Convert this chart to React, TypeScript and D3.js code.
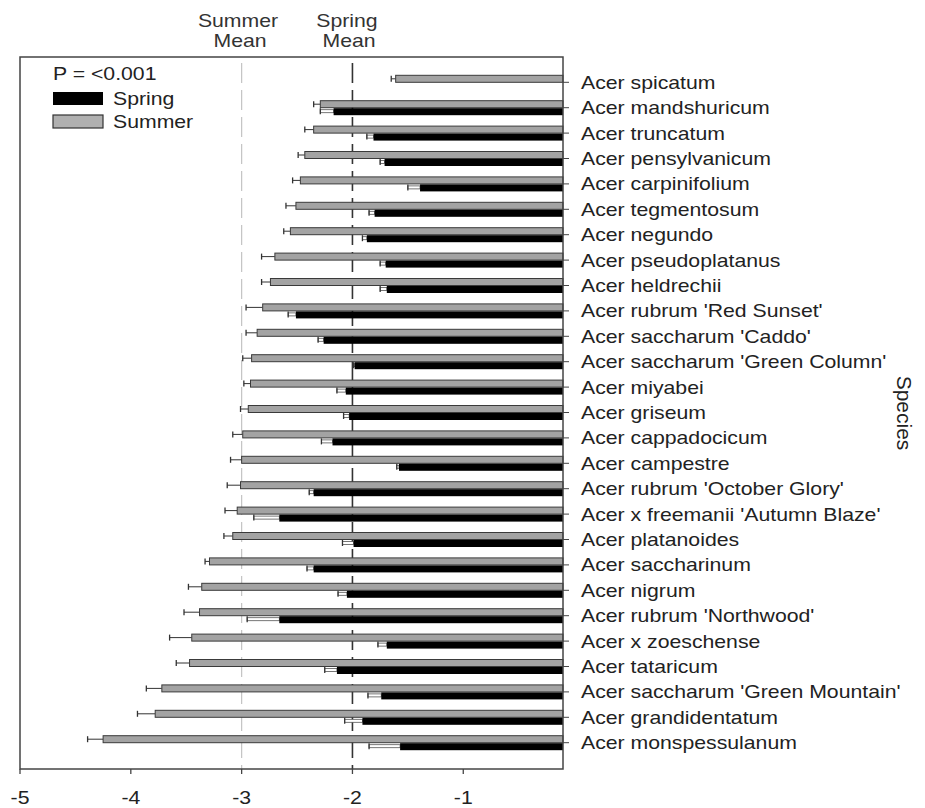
import React from 'react'
import * as d3 from 'd3'

// species, top to bottom
const species = [
  'Acer spicatum',
  'Acer mandshuricum',
  'Acer truncatum',
  'Acer pensylvanicum',
  'Acer carpinifolium',
  'Acer tegmentosum',
  'Acer negundo',
  'Acer pseudoplatanus',
  'Acer heldrechii',
  "Acer rubrum 'Red Sunset'",
  "Acer saccharum 'Caddo'",
  "Acer saccharum 'Green Column'",
  'Acer miyabei',
  'Acer griseum',
  'Acer cappadocicum',
  'Acer campestre',
  "Acer rubrum 'October Glory'",
  "Acer x freemanii 'Autumn Blaze'",
  'Acer platanoides',
  'Acer saccharinum',
  'Acer nigrum',
  "Acer rubrum 'Northwood'",
  'Acer x zoeschense',
  'Acer tataricum',
  "Acer saccharum 'Green Mountain'",
  'Acer grandidentatum',
  'Acer monspessulanum',
]

const summerMean = [-1.61, -2.29, -2.35, -2.43, -2.47, -2.51, -2.56, -2.70, -2.74, -2.81, -2.86, -2.91, -2.92, -2.94, -2.99, -3.00, -3.01, -3.04, -3.08, -3.29, -3.36, -3.38, -3.45, -3.47, -3.72, -3.78, -4.25]
const summerErr = [0.04, 0.06, 0.08, 0.06, 0.07, 0.09, 0.06, 0.12, 0.08, 0.15, 0.10, 0.08, 0.06, 0.07, 0.09, 0.10, 0.12, 0.11, 0.08, 0.04, 0.12, 0.14, 0.20, 0.12, 0.14, 0.16, 0.14]
const springMean = [null, -2.17, -1.81, -1.71, -1.39, -1.80, -1.87, -1.70, -1.69, -2.51, -2.26, -1.98, -2.06, -2.03, -2.18, -1.58, -2.35, -2.66, -1.99, -2.35, -2.05, -2.66, -1.69, -2.14, -1.74, -1.91, -1.57]
const springErr = [0, 0.12, 0.06, 0.04, 0.11, 0.05, 0.04, 0.05, 0.06, 0.07, 0.05, 0.01, 0.08, 0.05, 0.10, 0.02, 0.04, 0.23, 0.10, 0.06, 0.08, 0.29, 0.08, 0.11, 0.12, 0.16, 0.28]

const xTicks = [-5, -4, -3, -2, -1]
const summerOverall = -3
const springOverall = -2
const pLabel = 'P = <0.001'

const W = 925
const H = 808
const left = 20
const right = 563
const top = 57
const bottom = 769
const font = 'Liberation Sans, Arial, Helvetica, sans-serif'
const SX = 1.18 // the source picture is stretched sideways

function Txt({x, y, children, size = 18, anchor = 'start', fill = '#222'}: any) {
  return (
    <text transform={`translate(${x},${y}) scale(${SX},1)`} fontSize={size} fontFamily={font}
      textAnchor={anchor} fill={fill}>{children}</text>
  )
}

export default function App() {
  const x = d3.scaleLinear().domain([-5, -0.1]).range([left, right])
  const y = d3.scalePoint().domain(species).range([82.3, 742.7])
  const bh = 7

  return (
    <svg width={W} height={H} style={{position: 'absolute', left: 0, top: 0, background: '#fff'}}>
      {/* mean lines */}
      <line x1={x(summerOverall)} x2={x(summerOverall)} y1={top + 6} y2={bottom} stroke="#c4c4c4"
        strokeWidth={1.2} strokeDasharray="20 7" />
      <line x1={x(springOverall)} x2={x(springOverall)} y1={top + 6} y2={bottom} stroke="#333"
        strokeWidth={1.6} strokeDasharray="20 7" />

      {species.map((s, i) => {
        const c = y(s)!
        const sm = summerMean[i]
        const sp = springMean[i]
        return (
          <g key={s}>
            {/* summer */}
            <line x1={x(sm - summerErr[i])} x2={x(sm)} y1={c - bh / 2} y2={c - bh / 2} stroke="#333" strokeWidth={1} />
            <line x1={x(sm - summerErr[i])} x2={x(sm - summerErr[i])} y1={c - bh / 2 - 3} y2={c - bh / 2 + 3} stroke="#333" strokeWidth={1.3} />
            <rect x={x(sm)} y={c - bh} width={right - x(sm)} height={bh} fill="#a3a3a3" stroke="#3a3a3a" strokeWidth={1} />
            {/* spring */}
            {sp !== null && (
              <g>
                <rect x={x(sp - springErr[i])} y={c + bh / 2 - 1.5} width={x(sp) - x(sp - springErr[i])} height={3}
                  fill="#fff" stroke="#555" strokeWidth={0.8} />
                <line x1={x(sp - springErr[i])} x2={x(sp - springErr[i])} y1={c + bh / 2 - 3} y2={c + bh / 2 + 3} stroke="#333" strokeWidth={1.3} />
                <rect x={x(sp)} y={c + 0.5} width={right - x(sp)} height={bh} fill="#000" />
              </g>
            )}
            <line x1={right} x2={right + 6} y1={c} y2={c} stroke="#444" strokeWidth={1} />
            <Txt x={581} y={c + 6.5}>{s}</Txt>
          </g>
        )
      })}

      {/* frame */}
      <rect x={left} y={top} width={right - left} height={bottom - top} fill="none" stroke="#444" strokeWidth={1.5} />

      {xTicks.map(t => (
        <g key={t}>
          <line x1={x(t)} x2={x(t)} y1={bottom} y2={bottom + 5} stroke="#444" strokeWidth={1.3} />
          <Txt x={x(t)} y={804} anchor="middle">{String(t)}</Txt>
        </g>
      ))}

      {/* mean titles */}
      <Txt x={238} y={27} anchor="middle" fill="#333">Summer</Txt>
      <Txt x={240} y={47} anchor="middle" fill="#333">Mean</Txt>
      <Txt x={347} y={27} anchor="middle" fill="#333">Spring</Txt>
      <Txt x={349} y={47} anchor="middle" fill="#333">Mean</Txt>

      {/* legend */}
      <Txt x={53} y={80}>{pLabel}</Txt>
      <rect x={53} y={92} width={50} height={13} fill="#000" />
      <Txt x={113} y={105}>Spring</Txt>
      <rect x={53} y={115} width={50} height={13} fill="#b0b0b0" stroke="#333" strokeWidth={1.2} />
      <Txt x={113} y={128}>Summer</Txt>

      <text transform="translate(897,413) rotate(90)" fontSize={21} fontFamily={font} textAnchor="middle" fill="#222">Species</text>
    </svg>
  )
}
